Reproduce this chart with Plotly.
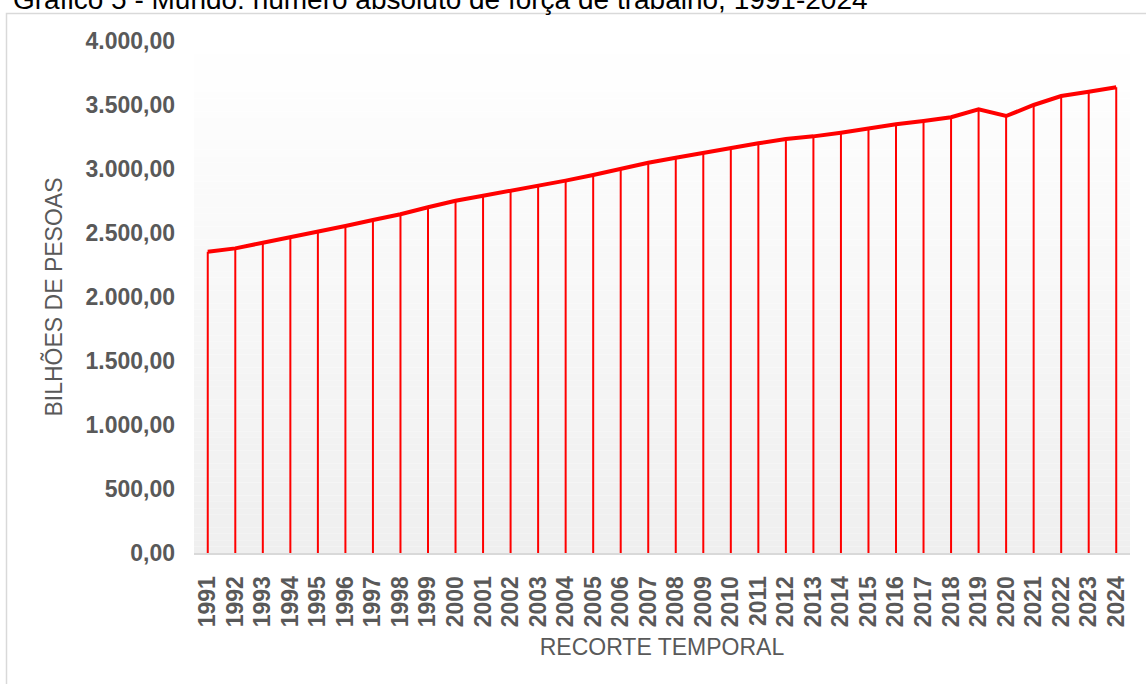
import plotly.graph_objects as go

# ---- data ----
years = [str(y) for y in range(1991, 2025)]
forca_trabalho = [
    2353, 2380, 2424, 2466, 2510, 2555, 2602, 2646, 2701, 2752,
    2791, 2828, 2867, 2909, 2953, 3000, 3049, 3088, 3127, 3162,
    3201, 3234, 3255, 3284, 3318, 3349, 3375, 3404, 3466, 3414,
    3500, 3570, 3604, 3638,
]
y_ticks = [0, 500, 1000, 1500, 2000, 2500, 3000, 3500, 4000]

title_text = "Gráfico 5 - Mundo: número absoluto de força de trabalho, 1991-2024"
y_title = "BILHÕES DE PESOAS"
x_title = "RECORTE TEMPORAL"

# ---- layout geometry (page body margin removed via post_script) ----
W, H = 1146, 684
PL, PR, PT, PB = 194, 1130, 41, 553          # plot area in screen pixels
L, T = PL, PT
pw, ph = PR - PL, PB - PT
R = W - L - pw
B = H - T - ph

def px_x(px):
    return (px - PL) / pw

def px_y(py):
    return (PB - py) / ph

FONT = "Liberation Sans, Arial, sans-serif"
RED = "#ff0000"
GREY_TXT = "#595959"

fig = go.Figure()

# drop lines (value down to zero)
fig.add_trace(go.Scatter(
    x=years, y=forca_trabalho, mode="markers",
    marker=dict(size=0.1, color="rgba(0,0,0,0)"),
    error_y=dict(type="data", symmetric=False, array=[0] * len(forca_trabalho),
                 arrayminus=forca_trabalho, color=RED, thickness=2, width=0),
    hoverinfo="skip", showlegend=False,
))
# main line
fig.add_trace(go.Scatter(
    x=years, y=forca_trabalho, mode="lines",
    line=dict(color=RED, width=4),
    showlegend=False,
))

# gradient background of plot area
shapes = []
n = 80
c_top, c_bot = 255, 239
for i in range(n):
    f = (i + 0.5) / n
    c = round(c_bot + (c_top - c_bot) * f)
    shapes.append(dict(
        type="rect", xref="paper", yref="paper",
        x0=0, x1=1, y0=i / n, y1=(i + 1) / n,
        fillcolor=f"rgb({c},{c},{c})", line=dict(width=0), layer="below",
    ))
# outer chart border
shapes.append(dict(
    type="rect", xref="paper", yref="paper",
    x0=px_x(6.5), x1=px_x(1170), y0=px_y(710), y1=px_y(13.5),
    line=dict(color="#d9d9d9", width=1.5), fillcolor="rgba(0,0,0,0)", layer="below",
))

fig.update_layout(
    width=W, height=H,
    margin=dict(l=L, r=R, t=T, b=B, autoexpand=False),
    paper_bgcolor="white", plot_bgcolor="white",
    separators=",.",
    font=dict(family=FONT, color=GREY_TXT),
    shapes=shapes,
    annotations=[dict(
        text=title_text, xref="paper", yref="paper",
        x=px_x(11), y=px_y(-1), xanchor="left", yanchor="middle",
        showarrow=False, font=dict(family=FONT, size=28, color="#000000"),
    )],
)

fig.update_xaxes(
    type="category", range=[-0.5, len(years) - 0.5],
    tickmode="array", tickvals=years, ticktext=years,
    tickangle=-90, tickfont=dict(family=FONT, size=23, color=GREY_TXT, weight="bold"),
    showgrid=False, zeroline=False,
    showline=True, linecolor="#d9d9d9", linewidth=2,
    ticks="", ticklabelstandoff=12,
    title=dict(text=x_title, font=dict(family=FONT, size=23, color=GREY_TXT), standoff=13),
    automargin=False,
)
fig.update_yaxes(
    range=[0, 4000], tickvals=y_ticks, tickformat=",.2f",
    tickfont=dict(family=FONT, size=23, color=GREY_TXT, weight="bold"),
    showgrid=False, zeroline=False, showline=False,
    ticks="", ticklabelstandoff=18,
    title=dict(text=y_title, font=dict(family=FONT, size=23, color=GREY_TXT), standoff=16),
    automargin=False,
)

fig.write_html(
    "out.html",
    config={"displayModeBar": False},
    post_script="document.body.style.margin='0';document.body.style.overflow='hidden';",
)
